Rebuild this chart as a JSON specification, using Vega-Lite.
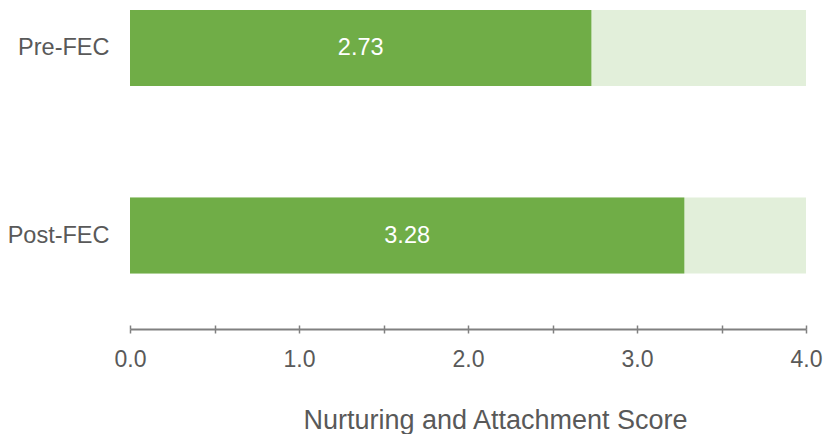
{
  "$schema": "https://vega.github.io/schema/vega-lite/v6.json",
  "width": 676,
  "height": 329,
  "autosize": "none",
  "padding": {"left": 130, "top": 0, "right": 17, "bottom": 105},
  "background": "white",
  "config": {
    "view": {"stroke": null},
    "font": "Liberation Sans"
  },
  "data": {
    "values": [
      {"stage": "Pre-FEC", "score": 2.73, "max": 4},
      {"stage": "Post-FEC", "score": 3.28, "max": 4}
    ]
  },
  "encoding": {
    "y": {
      "field": "stage",
      "type": "nominal",
      "sort": ["Pre-FEC", "Post-FEC"],
      "scale": {"paddingInner": 0.5947, "paddingOuter": 0.1747, "align": 0.153},
      "axis": {
        "title": null,
        "domain": false,
        "ticks": false,
        "labelPadding": 21,
        "labelFontSize": 23.5,
        "labelColor": "#595959",
        "labelFont": "Liberation Sans"
      }
    }
  },
  "layer": [
    {
      "mark": {"type": "bar", "color": "#E2EFDA"},
      "encoding": {
        "x": {
          "field": "max",
          "type": "quantitative",
          "scale": {"domain": [0, 4], "nice": false},
          "axis": {
            "orient": "bottom",
            "values": [0, 0.5, 1, 1.5, 2, 2.5, 3, 3.5, 4],
            "labelExpr": "datum.value % 1 === 0 ? format(datum.value, '.1f') : ''",
            "grid": false,
            "domainColor": "#808080",
            "domainWidth": 2,
            "tickColor": "#808080",
            "tickWidth": 1.5,
            "tickSize": 4,
            "labelPadding": 15,
            "labelFontSize": 23,
            "labelColor": "#595959",
            "labelFont": "Liberation Sans",
            "labelFlush": false,
            "labelOverlap": false,
            "title": "Nurturing and Attachment Score",
            "titleFontSize": 27,
            "titleFontWeight": "normal",
            "titleColor": "#595959",
            "titleFont": "Liberation Sans",
            "titlePadding": 36,
            "titleX": 365,
            "titleAlign": "center"
          }
        }
      }
    },
    {
      "mark": {"type": "bar", "color": "#70AD47"},
      "encoding": {
        "x": {"field": "score", "type": "quantitative", "axis": null}
      }
    },
    {
      "transform": [{"calculate": "datum.score / 2", "as": "mid"}],
      "mark": {"type": "text", "color": "white", "fontSize": 23.5, "font": "Liberation Sans", "align": "center", "baseline": "middle"},
      "encoding": {
        "x": {"field": "mid", "type": "quantitative", "axis": null},
        "text": {"field": "score", "type": "quantitative", "format": ".2f"}
      }
    },
    {
      "mark": {"type": "bar", "opacity": 0},
      "encoding": {
        "x": {
          "field": "max",
          "type": "quantitative",
          "axis": {
            "orient": "bottom",
            "values": [0, 0.5, 1, 1.5, 2, 2.5, 3, 3.5, 4],
            "grid": false,
            "domain": false,
            "labels": false,
            "title": null,
            "tickColor": "#808080",
            "tickWidth": 1.5,
            "tickSize": -4
          }
        }
      }
    }
  ],
  "resolve": {"axis": {"x": "independent"}}
}
